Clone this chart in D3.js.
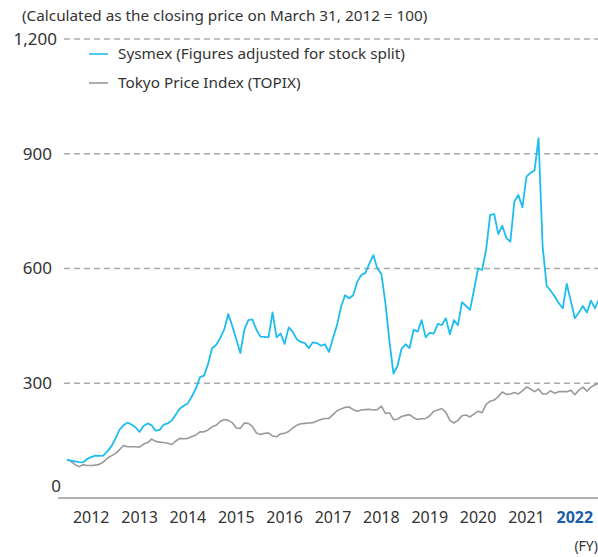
<!DOCTYPE html>
<html><head><meta charset="utf-8">
<script src="https://cdn.jsdelivr.net/npm/d3@7"></script>
<style>body{margin:0;background:#fff;} svg{display:block;} text{font-family:"Noto Sans",sans-serif;fill:#333;}</style>
</head><body>
<svg id="c" width="598" height="557"></svg>
<script>
const sysmex = [100,98,96,94,93,102,107,111,110,111,122,135,155,178,190,197,192,185,173,188,195,190,176,178,192,195,203,218,234,241,248,266,287,316,
320,350,392,400,418,440,481,450,415,379,440,465,467,440,422,421,420,485,420,430,403,446,435,415,408,405,392,407,405,398,402,382,
418,452,500,530,522,530,565,583,588,612,635,600,586,510,410,325,345,390,402,392,440,435,465,420,432,430,455,452,470,428,465,452,512,502,
492,545,600,596,650,740,742,690,712,680,670,775,792,760,840,850,856,941,660,555,542,527,510,496,560,515,470,485,502,485,516,496,520];
const topix = [100,96,87,82,87,85,85,86,88,94,104,110,116,126,137,134,134,134,133,141,145,154,148,146,145,143,140,149,156,155,156,161,165,173,
173,178,186,190,200,205,203,197,183,182,196,195,187,170,166,169,170,162,160,168,169,174,183,190,194,195,196,197,201,205,208,208,
218,228,233,237,238,231,227,230,231,232,230,231,240,221,223,205,206,213,216,218,210,205,207,208,215,227,230,234,224,203,196,203,215,217,
212,220,227,223,245,253,256,265,277,271,272,276,272,280,290,285,278,285,272,272,280,274,278,278,278,282,270,282,290,279,290,296,300];
const years = [2012,2013,2014,2015,2016,2017,2018,2019,2020,2021,2022];
const yTicks = [0,300,600,900,1200];
const seriesNames = ["Sysmex (Figures adjusted for stock split)","Tokyo Price Index (TOPIX)"];
const note = "(Calculated as the closing price on March 31, 2012 = 100)";

const svg = d3.select("#c");
const x = d3.scaleLinear().domain([0,132]).range([67,599]);
const y = d3.scaleLinear().domain([0,1200]).range([498,39]);
const blue = "#1dbdf0", gray = "#9a9a9a";

svg.append("text").attr("x",22).attr("y",21).attr("font-size",15.3).text(note);

// gridlines
svg.append("g").selectAll("line").data(yTicks.filter(d=>d>0)).join("line")
  .attr("x1",64).attr("x2",598).attr("y1",d=>y(d)).attr("y2",d=>y(d))
  .attr("stroke","#aaa").attr("stroke-width",1.6).attr("stroke-dasharray","6,4");
svg.append("line").attr("x1",58).attr("x2",598).attr("y1",y(0)).attr("y2",y(0))
  .attr("stroke","#999").attr("stroke-width",1.3);

svg.append("g").selectAll("text").data(yTicks).join("text")
  .attr("x",d=>d===0?61:d===1200?57:52).attr("y",d=>d===0?y(d)-12:y(d))
  .attr("dy","0.35em").attr("text-anchor","end").attr("font-size",17)
  .text(d=>d3.format(",")(d));

// x labels
svg.append("g").selectAll("text").data(years).join("text")
  .attr("x",d=>x((d-2012)*12+6)).attr("y",523).attr("text-anchor","middle")
  .attr("font-size",16)
  .attr("font-weight",d=>d===2022?"bold":"normal")
  .style("fill",d=>d===2022?"#1b5ea8":"#333")
  .text(d=>d);
svg.append("text").attr("x",598).attr("y",551).attr("text-anchor","end").attr("font-size",14).text("(FY)");

const line = d3.line().x((d,i)=>x(i)).y(d=>y(d));
svg.append("path").datum(topix).attr("d",line).attr("fill","none").attr("stroke",gray).attr("stroke-width",1.6).attr("stroke-linejoin","round");
svg.append("path").datum(sysmex).attr("d",line).attr("fill","none").attr("stroke",blue).attr("stroke-width",1.8).attr("stroke-linejoin","round");

// legend
const lg = svg.append("g");
[[blue,54],[gray,83]].forEach((c,i)=>{
  lg.append("line").attr("x1",89).attr("x2",108).attr("y1",c[1]).attr("y2",c[1]).attr("stroke",c[0]).attr("stroke-width",1.6);
  lg.append("text").attr("x",118).attr("y",c[1]).attr("dy","0.35em").attr("font-size",15.3).text(seriesNames[i]);
});
</script>
</body></html>
